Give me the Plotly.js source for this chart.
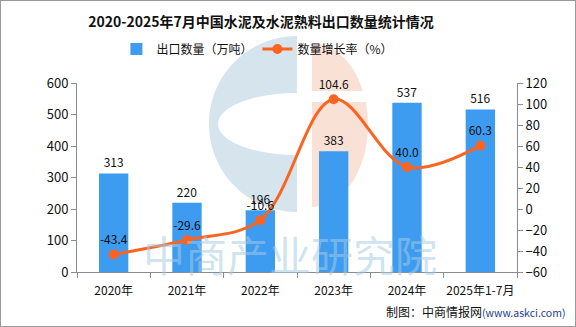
<!DOCTYPE html>
<html>
<head>
<meta charset="utf-8">
<script src="https://cdn.plot.ly/plotly-3.0.1.min.js"></script>
<style>
html,body{margin:0;padding:0;background:#fff;}
#chart{width:574px;height:325px;border:1px solid #9a9a9a;}
</style>
</head>
<body>
<div id="chart"></div>
<script>
const categories = ["2020年","2021年","2022年","2023年","2024年","2025年1-7月"];
const exportVolume = [313, 220, 196, 383, 537, 516];
const growthRate = [-43.4, -29.6, -10.6, 104.6, 40.0, 60.3];
const leftTicks = [0, 100, 200, 300, 400, 500, 600];
const rightTicks = [-60, -40, -20, 0, 20, 40, 60, 80, 100, 120];

const FONT = "'Noto Sans CJK SC', 'DejaVu Sans', sans-serif";
const BAR = "#3d9cf0";
const LINE = "#fb6420";

// pixel (page) -> paper coordinates helper for decorative logo
function P(x, y){ return ((x-77)/440).toFixed(4) + "," + ((272-y)/189).toFixed(4); }
const k = 0.5523;
function cPath(){
  const cx=297, cy=124, R=88, rx=79, ry=31;
  return "M"+P(cx,cy-R)+" C"+P(cx-k*R,cy-R)+" "+P(cx-R,cy-k*R)+" "+P(cx-R,cy)+
    " C"+P(cx-R,cy+k*R)+" "+P(cx-k*R,cy+R)+" "+P(cx,cy+R)+
    " L"+P(cx,cy+ry)+" C"+P(cx-k*rx,cy+ry)+" "+P(cx-rx,cy+k*ry)+" "+P(cx-rx,cy)+
    " C"+P(cx-rx,cy-k*ry)+" "+P(cx-k*rx,cy-ry)+" "+P(cx,cy-ry)+" Z";
}
function dPath(){
  const cx=312, cy=125, rx=56, ry=82;
  return "M"+P(cx,cy-ry)+" C"+P(cx+k*rx,cy-ry)+" "+P(cx+rx,cy-k*ry)+" "+P(cx+rx,cy)+
    " C"+P(cx+rx,cy+k*ry)+" "+P(cx+k*rx,cy+ry)+" "+P(cx,cy+ry)+" Z";
}

const traces = [
  {
    type: "bar",
    name: "出口数量（万吨）",
    x: categories,
    y: exportVolume,
    marker: {color: BAR},
    text: exportVolume.map(String),
    textposition: "outside",
    textfont: {family: FONT, size: 12, color: "#111"},
    cliponaxis: false,
    yaxis: "y"
  },
  {
    type: "scatter",
    mode: "lines+markers+text",
    name: "数量增长率（%）",
    x: categories,
    y: growthRate,
    line: {color: LINE, width: 3, shape: "spline", smoothing: 1},
    marker: {color: LINE, size: 10},
    text: growthRate.map(v => v.toFixed(1)),
    textposition: "top center",
    textfont: {family: FONT, size: 12, color: "#111"},
    cliponaxis: false,
    yaxis: "y2"
  }
];

const axisCommon = {
  showgrid: false,
  zeroline: false,
  showline: true,
  linecolor: "#8c8c8c",
  linewidth: 1,
  ticks: "outside",
  ticklen: 5,
  tickcolor: "#8c8c8c",
  tickfont: {family: FONT, size: 13, color: "#111"}
};

const layout = {
  width: 574,
  height: 325,
  margin: {l: 76, r: 58, t: 82, b: 54},
  paper_bgcolor: "#fff",
  plot_bgcolor: "rgba(0,0,0,0)",
  font: {family: FONT, color: "#111"},
  title: {
    text: "<b>2020-2025年7月中国水泥及水泥熟料出口数量统计情况</b>",
    font: {family: FONT, size: 14, color: "#111"},
    xref: "container", x: 260/574, xanchor: "center",
    yref: "container", y: 1 - 21/325, yanchor: "middle"
  },
  showlegend: true,
  legend: {
    orientation: "h",
    x: 0.41, xanchor: "center",
    y: (272-49)/189, yanchor: "middle",
    font: {family: FONT, size: 12, color: "#111"},
    bgcolor: "rgba(0,0,0,0)"
  },
  bargap: 0.6,
  xaxis: Object.assign({}, axisCommon, {
    type: "category",
    tickson: "boundaries",
    tickangle: 0,
    automargin: false,
    ticklabelstandoff: 8,
    tickfont: {family: FONT, size: 12, color: "#111"}
  }),
  yaxis: Object.assign({}, axisCommon, {
    range: [0, 600],
    automargin: false,
    tickvals: leftTicks,
    ticktext: leftTicks.map(String)
  }),
  yaxis2: Object.assign({}, axisCommon, {
    overlaying: "y",
    side: "right",
    automargin: false,
    range: [-60, 120],
    tickvals: rightTicks,
    ticktext: rightTicks.map(v => v < 0 ? "−" + Math.abs(v) : String(v))
  }),
  shapes: [
    {type: "path", xref: "paper", yref: "paper", path: cPath(), fillcolor: "#d5e4ed", line: {width: 0}, layer: "below"},
    {type: "path", xref: "paper", yref: "paper", path: dPath(), fillcolor: "#fae1d6", line: {width: 0}, layer: "below"},
    {type: "rect", xref: "paper", yref: "paper",
     x0: (311-77)/440, x1: (372-77)/440, y0: (272-102)/189, y1: (272-91)/189,
     fillcolor: "#ffffff", line: {width: 0}, layer: "below"}
  ],
  annotations: [
    {
      text: "中商产业研究院",
      xref: "paper", yref: "paper",
      x: (290-77)/440, y: (272-253)/189,
      xanchor: "center", yanchor: "middle",
      showarrow: false,
      font: {family: FONT, size: 42, color: "rgba(165,203,228,0.55)"}
    },
    {
      text: "制图：中商情报网<span style='color:#1d3f8c;font-size:10.5px'>(www.askci.com)</span>",
      xref: "paper", yref: "paper",
      x: (567-77)/440, y: (272-311)/189,
      xanchor: "right", yanchor: "middle",
      showarrow: false,
      font: {family: FONT, size: 12, color: "#111"}
    }
  ]
};

Plotly.newPlot("chart", traces, layout, {displayModeBar: false, staticPlot: true});
</script>
</body>
</html>
